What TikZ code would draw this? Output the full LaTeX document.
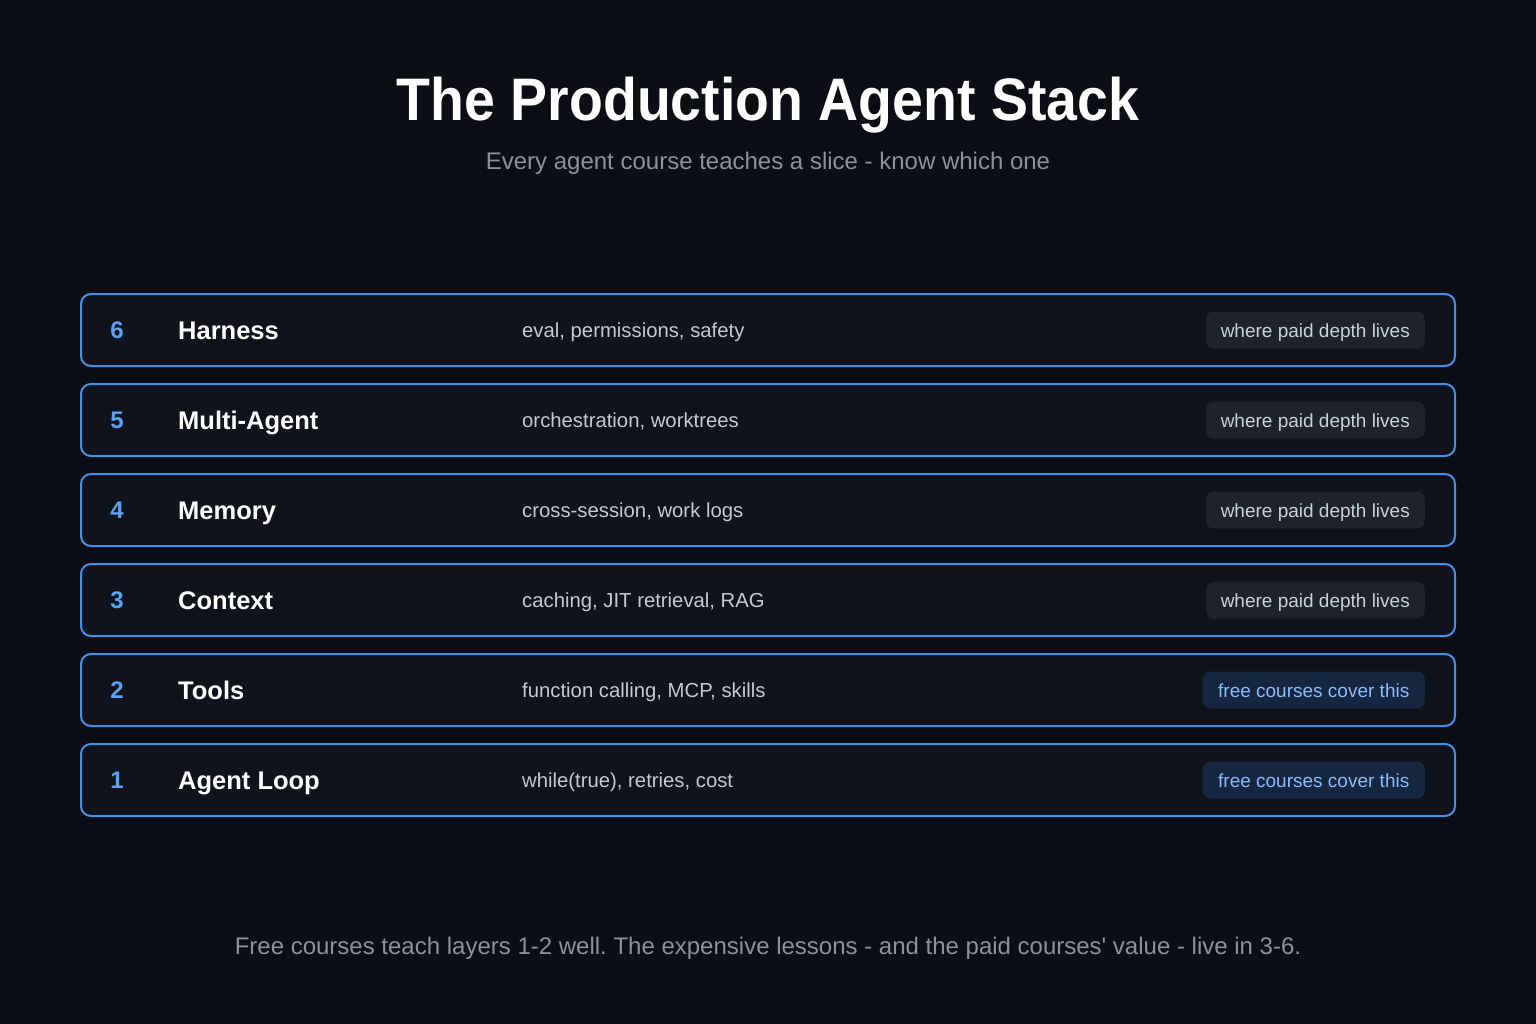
\documentclass[tikz,border=0pt]{standalone}
\usepackage{fontspec}
\setmainfont{Liberation Sans}[Ligatures=TeXOff]
\frenchspacing
\usetikzlibrary{positioning}
\definecolor{bgc}{HTML}{0B0E14}
\definecolor{rowc}{HTML}{0F141C}
\definecolor{bordc}{HTML}{4A8FE7}
\definecolor{numc}{HTML}{5AA2F5}
\definecolor{descc}{HTML}{C4CAD2}
\definecolor{subc}{HTML}{8B929C}
\definecolor{paidfill}{HTML}{1E232B}
\definecolor{paidtext}{HTML}{C9D1D9}
\definecolor{freefill}{HTML}{172640}
\definecolor{freetext}{HTML}{8CBCF8}
\tikzset{
  rowbox/.style={draw=bordc, fill=rowc, line width=2pt, rounded corners=10pt, minimum width=1374pt, minimum height=72pt, inner sep=0pt},
  numtxt/.style={text=numc, font=\fontsize{24}{28}\selectfont\bfseries, anchor=base, inner sep=0pt},
  labtxt/.style={text=white, font=\fontsize{25.5}{30}\selectfont\bfseries, anchor=base west, inner sep=0pt},
  desctxt/.style={text=descc, font=\fontsize{20.3}{24}\selectfont, anchor=base west, inner sep=0pt},
  badgebase/.style={rounded corners=8pt, font=\fontsize{19}{22}\selectfont, anchor=east, text height=14pt, text depth=0pt, minimum height=37pt},
  paidbadge/.style={badgebase, fill=paidfill, text=paidtext, inner xsep=15pt},
  freebadge/.style={badgebase, fill=freefill, text=freetext, inner xsep=15.5pt},
}
\begin{document}
\begin{tikzpicture}[x=1pt,y=-1pt]
\fill[bgc] (0,0) rectangle (1536,1024);
\useasboundingbox (0,0) rectangle (1536,1024);
\node[text=white, inner sep=0pt, anchor=base] (title) at (768,121) {\scalebox{0.924}[1]{\fontsize{60}{64}\selectfont\bfseries The Production Agent Stack}};
\node[text=subc, inner sep=0pt, anchor=base, font=\fontsize{24}{28}\selectfont] (subtitle) at (768,170) {Every agent course teaches a slice - know which one};
\foreach \i/\n/\lab/\desc/\kind/\btxt in {
 0/6/Harness/{eval, permissions, safety}/paidbadge/where paid depth lives,
 1/5/Multi-Agent/{orchestration, worktrees}/paidbadge/where paid depth lives,
 2/4/Memory/{cross-session, work logs}/paidbadge/where paid depth lives,
 3/3/Context/{caching, JIT retrieval, RAG}/paidbadge/where paid depth lives,
 4/2/Tools/{function calling, MCP, skills}/freebadge/free courses cover this,
 5/1/Agent Loop/{while(true), retries, cost}/freebadge/free courses cover this}
{
  \pgfmathsetmacro{\yy}{330+90*\i}
  \node[rowbox] (row\n) at (768,\yy) {};
  \node[numtxt] (num\n) at (117,\yy+8.5) {\n};
  \node[labtxt] (lab\n) at (178,\yy+9) {\lab};
  \node[desctxt] (desc\n) at (522,\yy+7) {\desc};
  \node[\kind] (badge\n) at (1425,\yy) {\btxt};
}
\node[text=subc, inner sep=0pt, anchor=base, font=\fontsize{24}{28}\selectfont] (footer) at (768,954) {Free courses teach layers 1-2 well. The expensive lessons - and the paid courses' value - live in 3-6.};
\end{tikzpicture}
\end{document}
